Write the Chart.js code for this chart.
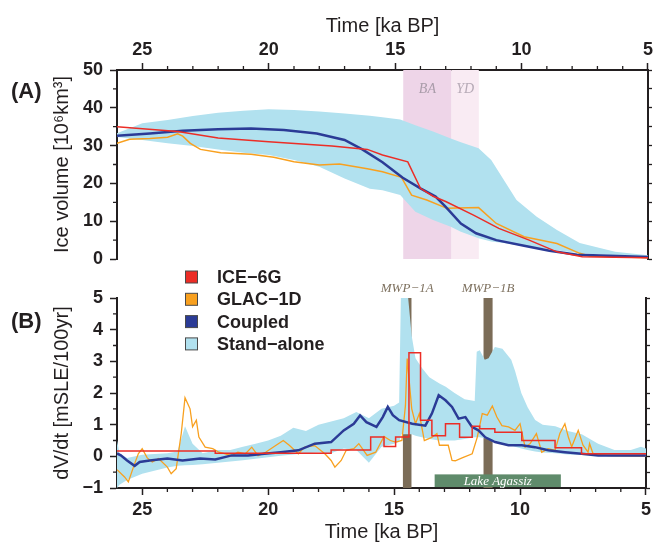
<!DOCTYPE html>
<html>
<head>
<meta charset="utf-8">
<script src="https://cdn.jsdelivr.net/npm/chart.js@4"></script>
<style>
  body { margin: 0; background: #fff; }
  #wrap { position: relative; width: 655px; height: 544px; }
  canvas { position: absolute; left: 0; }
  #volume { top: 0; }
  #rate { top: 265px; }
</style>
</head>
<body>
<div id="wrap">
  <canvas id="volume" width="655" height="280"></canvas>
  <canvas id="rate" width="655" height="279"></canvas>
</div>
<script>
// ---- panel A: ice volume [10^6 km^3] vs time [ka BP]
const ice6gTime = [26.0, 23.6, 22.0, 20.0, 17.5, 16.1, 15.5, 14.5, 14.0, 13.5, 13.0, 11.9, 10.9, 9.7, 8.6, 7.6, 5.0];
const ice6gVol  = [35.0, 33.7, 32.0, 31.0, 29.9, 29.0, 27.5, 25.7, 18.7, 16.6, 15.2, 11.6, 8.1, 5.0, 1.9, 0.6, 0.3];

const glacTime = [26.0, 25.5, 24.7, 24.0, 23.6, 23.4, 23.1, 22.7, 21.9, 20.7, 19.8, 19.0, 18.0, 17.2, 16.1, 15.5, 14.75, 14.35, 13.75, 12.95, 11.7, 11.0, 9.9, 8.6, 7.7, 7.3, 5.0];
const glacVol  = [30.6, 31.7, 31.9, 32.2, 33.1, 32.5, 30.6, 29.0, 28.1, 27.7, 26.9, 25.7, 24.9, 25.1, 23.9, 23.1, 21.6, 16.9, 15.6, 13.4, 13.6, 9.4, 5.9, 4.1, 1.5, 0.8, 0.3];

const coupledTime = [26.0, 24.7, 23.4, 22.0, 20.7, 19.4, 18.1, 17.0, 16.3, 15.5, 14.7, 14.0, 13.4, 13.0, 12.4, 11.8, 11.0, 9.9, 8.9, 7.8, 5.0];
const coupledVol  = [32.6, 33.2, 33.9, 34.3, 34.5, 34.1, 33.2, 31.5, 29.0, 25.6, 21.5, 18.7, 16.5, 13.8, 9.4, 6.8, 5.0, 3.5, 2.2, 1.1, 0.5];

const bandATime = [26, 25, 24, 23, 22, 21, 20, 19, 18, 17, 16, 15.5, 14.8, 14.2, 13.5, 12.8, 12.4, 11.7, 11.2, 10.7, 10.2, 9.4, 8.6, 7.7, 6.3, 5];
const bandAHigh = [33.3, 35.9, 36.8, 37.8, 38.7, 39.2, 39.6, 39.4, 39.0, 38.5, 37.9, 37.5, 36.9, 35.4, 33.7, 31.9, 30.9, 29.3, 26.2, 20.9, 15.6, 11.2, 7.7, 4.2, 1.9, 1.0];
const bandALow  = [32.3, 31.5, 30.6, 29.9, 29.0, 28.1, 27.5, 26.2, 24.4, 21.3, 18.6, 18.2, 16.9, 12.5, 10.3, 8.5, 7.2, 5.5, 4.6, 4.2, 3.7, 3.0, 2.3, 1.5, 1.0, 0.5];

// climate periods [ka BP]
const baPeriod = [14.68, 12.77];
const ydPeriod = [12.77, 11.69];

// ---- panel B: dV/dt [mSLE/100yr]
const ice6gRateTime = [26.0, 22.1, 17.5, 15.93, 15.4, 14.94, 14.41, 13.95, 13.5, 12.96, 12.4, 11.9, 11.6, 11.0, 9.93, 8.61, 7.56, 5.0];
const ice6gRate     = [0.17, 0.1, 0.2, 0.61, 0.31, 0.61, 3.27, 1.14, 0.65, 1.03, 0.6, 0.95, 0.87, 0.76, 0.5, 0.27, 0.08, 0.05];

const glacRateTime = [26.0, 25.7, 25.55, 25.3, 25.15, 25.0, 24.8, 24.6, 24.35, 24.0, 23.85, 23.65, 23.45, 23.3, 23.1, 23.0, 22.85, 22.75, 22.5, 22.2, 21.95, 21.7, 21.45, 21.2, 20.9, 20.65, 20.4, 20.1, 19.7, 19.4, 19.15, 18.8, 18.55, 18.15, 17.75, 17.5, 17.35, 17.1, 16.9, 16.6, 16.4, 16.07, 15.73, 15.4, 15.15, 14.94, 14.69, 14.55, 14.48, 14.3, 14.15, 14.0, 13.8, 13.5, 13.3, 13.2, 12.85, 12.7, 12.57, 12.3, 11.9, 11.7, 11.5, 11.3, 11.1, 10.92, 10.72, 10.46, 10.2, 10.0, 9.8, 9.6, 9.35, 9.14, 8.88, 8.61, 8.42, 8.22, 8.08, 7.95, 7.69, 7.5, 7.3, 7.24, 7.1, 6.5, 5.0];
const glacRate     = [-0.42, -0.65, -0.81, -0.23, 0.09, 0.24, -0.05, -0.18, -0.07, -0.34, -0.55, -0.39, 0.72, 1.85, 1.5, 0.93, 1.14, 0.61, 0.29, 0.24, 0.13, 0.08, 0.02, 0.13, 0.08, 0.29, 0.02, 0.13, 0.34, 0.5, 0.34, 0.08, 0.29, 0.34, 0.08, -0.13, -0.34, -0.13, 0.19, 0.24, 0.4, 0.03, 0.13, 0.63, 0.5, 0.45, 0.5, 1.6, 3.09, 1.5, 1.03, 1.35, 0.5, 0.6, 0.72, 0.35, 0.35, -0.13, -0.14, -0.05, 0.08, 0.6, 1.35, 1.3, 1.59, 1.24, 0.97, 0.93, 0.82, 1.03, 0.29, 0.4, 0.72, 0.13, 0.24, 0.19, 0.72, 1.03, 0.6, 0.3, 0.82, 0.35, 0.13, 0.4, 0.08, 0.02, 0.0];

const coupledRateTime = [26.0, 25.85, 25.6, 25.3, 25.1, 24.7, 24.0, 23.4, 22.7, 22.1, 21.45, 20.8, 20.15, 19.5, 18.8, 18.15, 17.5, 17.0, 16.6, 16.35, 16.1, 15.7, 15.45, 15.25, 15.05, 14.8, 14.28, 13.76, 13.5, 13.23, 12.96, 12.7, 12.44, 12.17, 11.91, 11.65, 11.38, 10.99, 10.46, 9.93, 9.41, 8.88, 8.22, 7.56, 6.9, 5.0];
const coupledRate     = [0.09, 0.03, -0.13, -0.3, -0.18, -0.13, -0.07, -0.13, -0.07, -0.1, 0.03, 0.03, 0.08, 0.13, 0.19, 0.4, 0.45, 0.82, 1.03, 1.29, 1.08, 0.93, 1.24, 1.56, 1.3, 1.14, 1.03, 0.97, 1.35, 1.93, 1.77, 1.56, 1.19, 1.24, 0.93, 0.82, 0.6, 0.45, 0.35, 0.35, 0.29, 0.19, 0.13, 0.08, 0.03, 0.03];

const bandBTime = [26.0, 25.9, 25.6, 25.0, 24.0, 23.6, 23.3, 23.0, 22.6, 22.0, 21.5, 21.0, 20.5, 20.0, 19.5, 19.0, 18.5, 18.0, 17.5, 17.0, 16.5, 16.0, 15.5, 15.0, 14.8, 14.72, 14.5, 14.3, 14.15, 13.9, 13.6, 13.2, 12.95, 12.6, 12.2, 11.8, 11.72, 11.6, 11.4, 11.25, 11.0, 10.7, 10.35, 10.2, 9.95, 9.7, 9.4, 9.1, 8.6, 8.1, 7.55, 6.9, 6.25, 5.6, 5.2, 5.0];
const bandBHigh = [0.5, 0.1, -0.05, 0.05, 0.1, 0.15, 0.95, 0.4, 0.1, 0.2, 0.2, 0.3, 0.4, 0.5, 0.65, 0.9, 0.8, 1.0, 1.1, 1.2, 1.4, 1.2, 1.5, 1.6, 1.7, 5.5, 5.5, 3.8, 3.1, 2.8, 2.5, 2.3, 2.2, 2.0, 1.8, 1.75, 3.3, 3.35, 3.05, 3.1, 3.45, 3.4, 3.05, 2.7, 2.0, 1.55, 1.15, 1.0, 0.95, 0.8, 0.7, 0.4, 0.2, 0.2, 0.3, 0.25];
const bandBLow  = [-1.0, -0.9, -0.75, -0.55, -0.35, -0.3, -0.28, -0.27, -0.25, -0.2, -0.16, -0.12, -0.08, -0.03, 0.02, 0.06, 0.1, 0.12, 0.1, 0.25, 0.2, -0.2, 0.3, 0.4, 0.45, 0.7, 0.7, 0.7, 0.65, 0.6, 0.55, 0.5, 0.5, 0.5, 0.55, 0.6, 0.6, 0.6, 0.57, 0.55, 0.5, 0.4, 0.35, 0.3, 0.25, 0.2, 0.15, 0.12, 0.1, 0.06, 0.04, 0.02, 0.0, 0.0, 0.0, 0.0];

// meltwater pulses and Lake Agassiz drainage [ka BP]
const mwp1a = [14.65, 14.31];
const mwp1b = [11.45, 11.09];
const lakeAgassiz = [13.39, 8.38];
const lakeAgassizLevel = [-0.97, -0.57];

const seriesNames = ['ICE\u22126G', 'GLAC\u22121D', 'Coupled', 'Stand\u2212alone'];

// ---- styles
const red = '#ec2d26', orange = '#f8a01f', blue = '#2b3b96', band = '#b1e1ef';
const axisColor = '#231f20';
const sans = "'Liberation Sans', Arial, Helvetica, sans-serif";
const serif = "'Liberation Serif', 'Times New Roman', serif";
Chart.defaults.font.family = sans;
Chart.defaults.color = axisColor;

function xy(ts, vs) { return ts.map(function (t, i) { return { x: t, y: vs[i] }; }); }
function minus(v) { return String(v).replace('-', '\u2212'); }

function box(chart, t0, t1, v0, v1, color) {
  const x = chart.scales.x, y = chart.scales.y, ctx = chart.ctx;
  const l = x.getPixelForValue(t0), r = x.getPixelForValue(t1);
  const top = y.getPixelForValue(v1), bot = y.getPixelForValue(v0);
  ctx.fillStyle = color;
  ctx.fillRect(l, top, r - l, bot - top);
}

function label(ctx, text, px, py, font, color) {
  ctx.save();
  ctx.font = font; ctx.fillStyle = color;
  ctx.textAlign = 'center'; ctx.textBaseline = 'middle';
  ctx.fillText(text, px, py);
  ctx.restore();
}

// short minor ticks between the labelled ones
function minorTicks(chart, id, step, major, len) {
  const s = chart.scales[id], a = chart.chartArea, ctx = chart.ctx;
  const lo = Math.min(s.min, s.max), hi = Math.max(s.min, s.max);
  ctx.save();
  ctx.strokeStyle = axisColor; ctx.lineWidth = 1.3;
  ctx.beginPath();
  for (let k = Math.ceil(lo / step - 1e-9); k * step <= hi + 1e-9; k++) {
    const v = k * step;
    if (Math.abs(v / major - Math.round(v / major)) < 1e-6) continue;
    if (Math.abs(v - lo) < 1e-9 || Math.abs(v - hi) < 1e-9) continue;
    const p = s.getPixelForValue(v);
    if (s.isHorizontal()) {
      const y0 = s.position === 'top' ? a.top : a.bottom;
      const dir = s.position === 'top' ? -1 : 1;
      ctx.moveTo(p, y0); ctx.lineTo(p, y0 + dir * len);
    } else {
      ctx.moveTo(a.left, p); ctx.lineTo(a.left - len, p);
    }
  }
  ctx.stroke();
  ctx.restore();
}

function lineSet(name, data, color, width, extra) {
  return Object.assign({
    label: name, data: data, borderColor: color, backgroundColor: color,
    borderWidth: width, pointRadius: 0, tension: 0, fill: false
  }, extra || {});
}

function axisBase(extra) {
  return Object.assign({
    type: 'linear',
    border: { display: true, width: 2, color: axisColor },
    grid: { drawOnChartArea: false, tickLength: 7, tickWidth: 1.5, tickColor: axisColor }
  }, extra);
}

const tickFont = { size: 18, weight: 'bold' };
const titleFont = { size: 20 };

// ---- panel A
const panelA = {
  id: 'panelA',
  beforeDatasetsDraw(chart) {
    box(chart, baPeriod[0], baPeriod[1], 0, 50, '#eed5e8');
    box(chart, ydPeriod[0], ydPeriod[1], 0, 50, '#f9ebf3');
    const x = chart.scales.x, y = chart.scales.y, ctx = chart.ctx;
    const f = 'italic 14px ' + serif;
    label(ctx, 'BA', x.getPixelForValue((baPeriod[0] + baPeriod[1]) / 2), y.getPixelForValue(45), f, '#a99ca9');
    label(ctx, 'YD', x.getPixelForValue((ydPeriod[0] + ydPeriod[1]) / 2), y.getPixelForValue(45), f, '#b6aab6');
  },
  afterDraw(chart) {
    minorTicks(chart, 'x', 1, 5, 4);
    minorTicks(chart, 'y', 5, 10, 4);
    const ctx = chart.ctx;
    ctx.save();
    ctx.font = 'bold 22px ' + sans; ctx.fillStyle = axisColor;
    ctx.textAlign = 'left'; ctx.textBaseline = 'middle';
    ctx.fillText('(A)', 11, chart.chartArea.top + 22);
    ctx.restore();
  }
};

new Chart(document.getElementById('volume'), {
  type: 'line',
  data: {
    datasets: [
      lineSet(seriesNames[0], xy(ice6gTime, ice6gVol), red, 1.5),
      lineSet(seriesNames[2], xy(coupledTime, coupledVol), blue, 2.5),
      lineSet(seriesNames[1], xy(glacTime, glacVol), orange, 1.5),
      lineSet(seriesNames[3], xy(bandATime, bandAHigh), band, 0, { fill: '+1' }),
      lineSet(seriesNames[3] + ' low', xy(bandATime, bandALow), band, 0)
    ]
  },
  options: {
    responsive: false,
    animation: false,
    layout: { padding: { bottom: 21 } },
    plugins: { legend: { display: false }, tooltip: { enabled: false } },
    scales: {
      x: axisBase({
        position: 'top', min: 5, max: 26, reverse: true,
        afterFit: function (s) { s.height = 70; },
        ticks: { stepSize: 5, includeBounds: false, padding: 2, maxRotation: 0, font: tickFont },
        title: { display: true, text: 'Time [ka BP]', font: titleFont, padding: { top: 14, bottom: 0 } }
      }),
      y: axisBase({
        position: 'left', min: 0, max: 50,
        afterFit: function (s) { s.width = 117; },
        ticks: { stepSize: 10, padding: 7, font: tickFont, callback: minus },
        title: { display: true, text: 'Ice volume [10\u2076km\u00b3]', font: titleFont, padding: { top: 50, bottom: 0 } }
      }),
      yRight: axisBase({
        position: 'right', min: 0, max: 50,
        afterFit: function (s) { s.width = 7; },
        grid: { drawOnChartArea: false, tickLength: 4, tickWidth: 1.3, tickColor: axisColor },
        ticks: { display: false, stepSize: 5 }
      })
    }
  },
  plugins: [panelA]
});

// ---- panel B
const panelB = {
  id: 'panelB',
  beforeDatasetsDraw(chart) {
    const brown = '#7b6c57';
    box(chart, mwp1a[0], mwp1a[1], -1, 5, brown);
    box(chart, mwp1b[0], mwp1b[1], -1, 5, brown);
  },
  afterDatasetsDraw(chart) {
    const x = chart.scales.x, y = chart.scales.y, ctx = chart.ctx;
    box(chart, lakeAgassiz[0], lakeAgassiz[1], lakeAgassizLevel[0], lakeAgassizLevel[1], '#5f8b6b');
    label(ctx, 'Lake Agassiz', x.getPixelForValue((lakeAgassiz[0] + lakeAgassiz[1]) / 2),
      y.getPixelForValue((lakeAgassizLevel[0] + lakeAgassizLevel[1]) / 2) + 1, 'italic 13px ' + serif, '#ffffff');
  },
  afterDraw(chart) {
    const x = chart.scales.x, y = chart.scales.y, ctx = chart.ctx, a = chart.chartArea;
    minorTicks(chart, 'x', 1, 5, 4);
    minorTicks(chart, 'y', 0.5, 1, 4);
    const f = 'italic 13px ' + serif;
    label(ctx, 'MWP\u22121A', x.getPixelForValue((mwp1a[0] + mwp1a[1]) / 2), y.getPixelForValue(5) - 9, f, '#7d705e');
    label(ctx, 'MWP\u22121B', x.getPixelForValue((mwp1b[0] + mwp1b[1]) / 2), y.getPixelForValue(5) - 9, f, '#7d705e');

    ctx.save();
    ctx.font = 'bold 22px ' + sans; ctx.fillStyle = axisColor;
    ctx.textAlign = 'left'; ctx.textBaseline = 'middle';
    ctx.fillText('(B)', 11, a.top + 24);

    // legend
    const colors = [red, orange, blue, band];
    ctx.font = 'bold 18px ' + sans;
    for (let i = 0; i < seriesNames.length; i++) {
      const cy = a.top - 21 + i * 22.3;
      ctx.fillStyle = colors[i];
      ctx.fillRect(a.left + 68.5, cy - 6, 12, 12);
      ctx.strokeStyle = '#4a4a4a'; ctx.lineWidth = 1;
      ctx.strokeRect(a.left + 68.5, cy - 6, 12, 12);
      ctx.fillStyle = axisColor;
      ctx.fillText(seriesNames[i], a.left + 100, cy + 1);
    }
    ctx.restore();
  }
};

new Chart(document.getElementById('rate'), {
  type: 'line',
  data: {
    datasets: [
      lineSet(seriesNames[0], xy(ice6gRateTime, ice6gRate), red, 1.5, { stepped: true }),
      lineSet(seriesNames[2], xy(coupledRateTime, coupledRate), blue, 2.5),
      lineSet(seriesNames[1], xy(glacRateTime, glacRate), orange, 1.3),
      lineSet(seriesNames[3], xy(bandBTime, bandBHigh), band, 0, { fill: '+1' }),
      lineSet(seriesNames[3] + ' low', xy(bandBTime, bandBLow), band, 0)
    ]
  },
  options: {
    responsive: false,
    animation: false,
    layout: { padding: { top: 33 } },
    plugins: { legend: { display: false }, tooltip: { enabled: false } },
    scales: {
      x: axisBase({
        position: 'bottom', min: 5, max: 26, reverse: true,
        afterFit: function (s) { s.height = 56; },
        ticks: { stepSize: 5, includeBounds: false, padding: 4, maxRotation: 0, font: tickFont },
        title: { display: true, text: 'Time [ka BP]', font: titleFont, padding: { top: 0, bottom: 0 } }
      }),
      y: axisBase({
        position: 'left', min: -1, max: 5,
        afterFit: function (s) { s.width = 117; },
        ticks: { stepSize: 1, padding: 7, font: tickFont, callback: minus },
        title: { display: true, text: 'dV/dt [mSLE/100yr]', font: titleFont, padding: { top: 50, bottom: 0 } }
      }),
      yRight: axisBase({
        position: 'right', min: -1, max: 5,
        afterFit: function (s) { s.width = 7; },
        grid: { drawOnChartArea: false, tickLength: 4, tickWidth: 1.3, tickColor: axisColor },
        ticks: { display: false, stepSize: 0.5 }
      })
    }
  },
  plugins: [panelB]
});
</script>
</body>
</html>
